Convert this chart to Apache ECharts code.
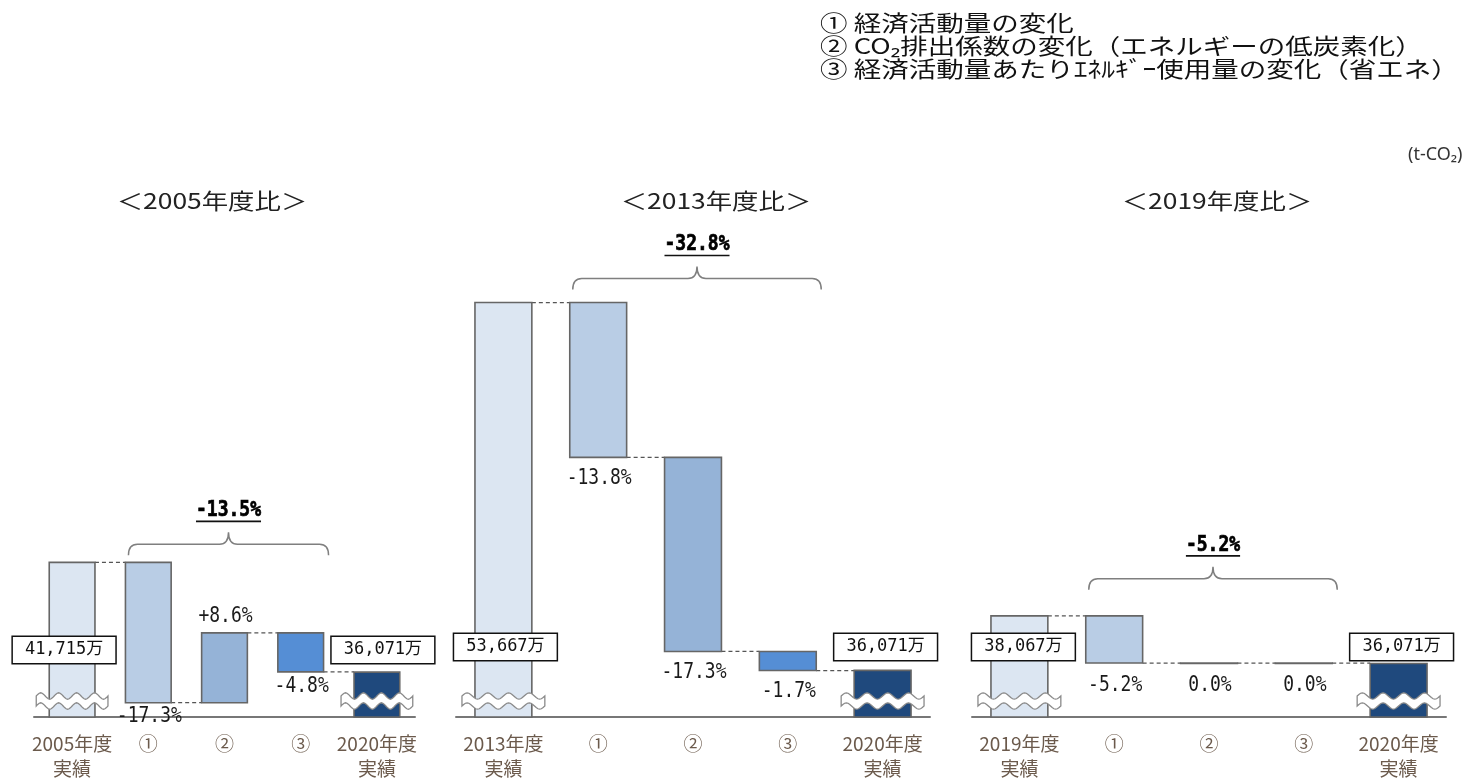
<!DOCTYPE html>
<html><head><meta charset="utf-8">
<script src="https://cdn.jsdelivr.net/npm/echarts@6/dist/echarts.min.js"></script>
<style>html,body{margin:0;padding:0;background:#fff}#c{width:1464px;height:781px}</style>
</head><body><div id="c"></div>
<script>
// ---------------- data ----------------
const legendLines = ['① 経済活動量の変化', '② CO₂排出係数の変化（エネルギーの低炭素化）', '③ 経済活動量あたりｴﾈﾙｷﾞｰ使用量の変化（省エネ）'];
const unitLabel = '(t-CO₂)';
const panelTitles = ['＜2005年度比＞', '＜2013年度比＞', '＜2019年度比＞'];
const categories2005 = ['2005年度\n実績', '①', '②', '③', '2020年度\n実績'];
const categories2013 = ['2013年度\n実績', '①', '②', '③', '2020年度\n実績'];
const categories2019 = ['2019年度\n実績', '①', '②', '③', '2020年度\n実績'];
const baseValues = [41715, 53667, 38067];      // 基準年度実績（万t-CO2）
const endValue = 36071;                         // 2020年度実績（万t-CO2）
const changes2005 = [-17.3, 8.6, -4.8];         // ①②③ 寄与（%）
const changes2013 = [-13.8, -17.3, -1.7];
const changes2019 = [-5.2, 0.0, 0.0];
const totalChanges = [-13.5, -32.8, -5.2];

// ---------------- style / layout ----------------
const COLORS = ['#DCE6F2', '#B9CDE5', '#95B3D7', '#558ED5', '#1F497D'];
const MONO = '"DejaVu Sans Mono", "Noto Sans CJK JP", monospace';
const JP = '"Noto Sans CJK JP", "Noto Sans", sans-serif';
const BAR_RATIO = 0.6;
const layouts = [
  { grid: { left: 34, width: 381, top: 250, height: 468 }, yMin: 33762, yMax: 57775, titleX: 212, braceGap: 18, labelGap: 14, boxGap: 67, boxShift: [-8, 6] },
  { grid: { left: 456, width: 474, top: 250, height: 471 }, yMin: 33842, yMax: 56182, titleX: 716, braceGap: 24, labelGap: 21, boxGap: 70, boxShift: [2, 3] },
  { grid: { left: 972, width: 474, top: 250, height: 471 }, yMin: 33826, yMax: 53410, titleX: 1217, braceGap: 37, labelGap: 22, boxGap: 70, boxShift: [4, 3] }
];
const panelCats = [categories2005, categories2013, categories2019];
const panelChanges = [changes2005, changes2013, changes2019];

function fmtPct(v) { return (v > 0 ? '+' : '') + v.toFixed(1) + '%'; }
function fmtVal(v) { return v.toLocaleString('en-US') + '万'; }

function buildItems(p) {
  const base = baseValues[p], ch = panelChanges[p];
  const items = [[0, base, base, 0]];
  let lvl = base;
  ch.forEach((c, i) => {
    const nxt = lvl + base * c / 100;
    items.push([i + 1, nxt, lvl, 1]);
    lvl = nxt;
  });
  items.push([4, endValue, endValue, 2]);
  return items;
}

function wavePoints(x0, x1, yc, off) {
  const pts = [];
  const n = 48, periods = 4, amp = 3.2;
  for (let i = 0; i <= n; i++) {
    const x = x0 + (x1 - x0) * i / n;
    pts.push([x, yc + off - amp * Math.sin(Math.PI * 2 * periods * i / n)]);
  }
  return pts;
}

function makeRender(p) {
  const L = layouts[p];
  return function (params, api) {
    const idx = api.value(0), to = api.value(1), from = api.value(2), kind = api.value(3);
    const cs = params.coordSys;
    const bottom = cs.y + cs.height;
    const bw = api.size([1, 0])[0] * BAR_RATIO;
    const pTo = api.coord([idx, to]);
    const cx = pTo[0];
    const yTo = pTo[1];
    const yFrom = kind === 1 ? api.coord([idx, from])[1] : bottom;
    const top = Math.min(yTo, yFrom), h = Math.abs(yFrom - yTo);
    const ch = [];
    if (idx < 4) {
      const nx = api.coord([idx + 1, to])[0];
      ch.push({ type: 'line', shape: { x1: cx + bw / 2, y1: yTo, x2: nx - bw / 2, y2: yTo },
        style: { stroke: '#555', lineWidth: 1.3, lineDash: [4, 3] } });
    }
    ch.push({ type: 'rect', shape: { x: cx - bw / 2, y: top, width: bw, height: Math.max(h, 0.5) },
      style: { fill: COLORS[idx], stroke: '#666', lineWidth: 1.6 } });
    if (kind === 1) {
      const c = panelChanges[p][idx - 1];
      const y = c > 0 ? top - 17 : top + h + L.labelGap;
      ch.push({ type: 'text', x: cx + 1, y: y, scaleY: 1.22, z2: 10,
        style: { text: fmtPct(c), align: 'center', verticalAlign: 'middle', fontSize: 18, fontFamily: MONO, fill: '#1a1a1a' } });
    } else {
      const yc = bottom - 16;
      const x0 = cx - bw / 2 - 13, x1 = cx + bw / 2 + 13;
      const topE = wavePoints(x0, x1, yc, -5);
      const botE = wavePoints(x0, x1, yc, 5).reverse();
      ch.push({ type: 'polygon', shape: { points: topE.concat(botE) },
        style: { fill: '#fff', stroke: '#8a8a8a', lineWidth: 1.3 } });
      const v = kind === 0 ? baseValues[p] : endValue;
      ch.push({ type: 'text', x: cx + L.boxShift[kind === 0 ? 0 : 1], y: bottom - L.boxGap, z2: 10,
        style: { text: fmtVal(v), align: 'center', verticalAlign: 'middle', fontSize: 17, fontFamily: MONO, fill: '#111',
          backgroundColor: '#fff', borderColor: '#111', borderWidth: 1.5, padding: [5, 12, 4, 12] } });
    }
    return { type: 'group', children: ch };
  };
}

function makeBrace(p) {
  const L = layouts[p];
  return function (params, api) {
    const base = baseValues[p];
    const bw = api.size([1, 0])[0] * BAR_RATIO;
    const x0 = api.coord([1, base])[0] - bw / 2 + 3;
    const x1 = api.coord([3, base])[0] + bw / 2 + 5;
    const yH = api.coord([0, base])[1] - L.braceGap;
    const xm = (x0 + x1) / 2;
    const r = 9;
    const path = `M${x0},${yH + 11} Q${x0},${yH} ${x0 + r},${yH} L${xm - r},${yH} Q${xm},${yH} ${xm},${yH - 12} Q${xm},${yH} ${xm + r},${yH} L${x1 - r},${yH} Q${x1},${yH} ${x1},${yH + 11}`;
    const txt = fmtPct(totalChanges[p]);
    const tw = txt.length * 18 * 0.602;
    return { type: 'group', children: [
      { type: 'path', shape: { pathData: path }, style: { fill: 'none', stroke: '#7f7f7f', lineWidth: 1.5 } },
      { type: 'text', x: xm, y: yH - 34, scaleY: 1.22, style: { text: txt, align: 'center', verticalAlign: 'middle', fontSize: 18, fontWeight: 'bold', fontFamily: MONO, fill: '#000', stroke: '#000', lineWidth: 0.6 } },
      { type: 'line', shape: { x1: xm - tw / 2, y1: yH - 23, x2: xm + tw / 2, y2: yH - 23 }, style: { stroke: '#111', lineWidth: 1.6 } }
    ] };
  };
}

const grids = [], xAxes = [], yAxes = [], series = [];
const graphics = [];
legendLines.forEach((t, i) => {
  graphics.push({ type: 'text', x: 820, y: 23 + i * 23, scaleX: 1.25,
    style: { text: t, fontSize: 22, fontFamily: JP, fill: '#111', align: 'left', verticalAlign: 'middle' } });
});
graphics.push({ type: 'text', x: 1408, y: 155,
  style: { text: unitLabel, fontSize: 18, fontFamily: '"Noto Sans", sans-serif', fill: '#333', align: 'left', verticalAlign: 'middle' } });

for (let p = 0; p < 3; p++) {
  const L = layouts[p];
  grids.push(L.grid);
  xAxes.push({ type: 'category', gridIndex: p, data: panelCats[p],
    axisLine: { lineStyle: { color: '#777', width: 2 } }, axisTick: { show: false },
    axisLabel: { interval: 0, fontSize: 19, lineHeight: 25, margin: 14, color: '#6b5a4c', fontFamily: JP } });
  yAxes.push({ type: 'value', gridIndex: p, min: L.yMin, max: L.yMax, show: false, splitLine: { show: false } });
  series.push({ type: 'custom', xAxisIndex: p, yAxisIndex: p, renderItem: makeRender(p), data: buildItems(p),
    encode: { x: 0, y: [1, 2] }, clip: false, silent: true });
  series.push({ type: 'custom', xAxisIndex: p, yAxisIndex: p, renderItem: makeBrace(p), data: [[2, baseValues[p]]],
    encode: { x: 0, y: 1 }, clip: false, silent: true });
  graphics.push({ type: 'text', x: L.titleX, y: 201, scaleX: 1.2,
    style: { text: panelTitles[p], fontSize: 22, fontFamily: JP, fill: '#222', align: 'center', verticalAlign: 'middle' } });
}

const chart = echarts.init(document.getElementById('c'), null, { renderer: 'canvas' });
chart.setOption({ animation: false, backgroundColor: '#fff', graphic: graphics, grid: grids, xAxis: xAxes, yAxis: yAxes, series: series });
</script>
</body></html>
